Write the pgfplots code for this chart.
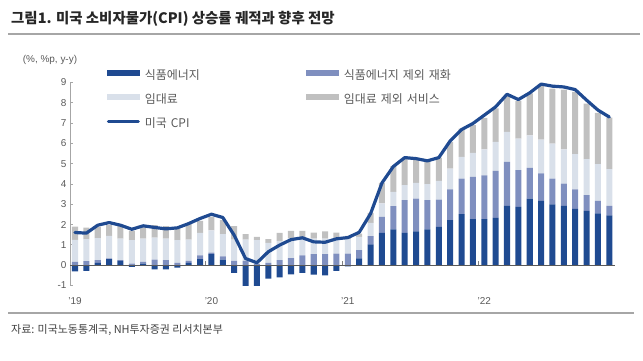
\documentclass[border=0pt]{standalone}
\usepackage{fontspec}
\usepackage{pgfplots}
\usepackage{pgfplotstable}
\pgfplotsset{compat=1.18}
\setmainfont{Liberation Sans}
\newfontfamily\cjk{Noto Sans CJK KR}
\definecolor{cFE}{HTML}{1F4A91}
\definecolor{cCG}{HTML}{7F8FBF}
\definecolor{cSH}{HTML}{D9E0EA}
\definecolor{cOS}{HTML}{C0C0C0}
\definecolor{cLine}{HTML}{1F4A91}
\definecolor{cTxt}{HTML}{595959}
\definecolor{cRule}{HTML}{A6A6A6}

\pgfplotstableread{
x fe cg sh os neg cpi
0 0 0.16 1.09 0.65 -0.30 1.61
1 0 0.20 1.09 0.56 -0.28 1.58
2 0.11 0.14 1.08 0.56 0 1.97
3 0.30 0.04 1.10 0.53 0 2.10
4 0.21 0.04 1.06 0.63 0 1.97
5 0 0.08 1.15 0.46 -0.08 1.77
6 0.08 0.08 1.15 0.55 0 1.94
7 0 0.28 1.08 0.61 -0.21 1.86
8 0 0.25 1.06 0.61 -0.21 1.79
9 0 0.11 1.13 0.55 -0.12 1.84
10 0.11 0.10 1.05 0.79 0 2.05
11 0.30 0.19 1.10 0.59 0 2.30
12 0.54 0.08 1.10 0.66 0 2.51
13 0.28 0.16 1.09 0.69 0 2.35
14 0 0.21 1.05 0.66 -0.38 1.48
15 0 0.21 1.05 0.27 -1.05 0.33
16 0 0.05 1.18 0.17 -1.05 0.12
17 0 0.11 0.99 0.18 -0.66 0.66
18 0 0.25 0.95 0.39 -0.60 0.99
19 0 0.35 0.98 0.36 -0.45 1.26
20 0 0.49 0.87 0.33 -0.38 1.35
21 0 0.54 0.77 0.30 -0.46 1.15
22 0 0.54 0.77 0.36 -0.50 1.13
23 0 0.57 0.77 0.27 -0.28 1.30
24 0 0.57 0.71 0.17 -0.06 1.36
25 0.33 0.41 0.66 0.16 0 1.62
26 1.03 0.40 0.66 0.49 0 2.54
27 1.59 0.79 0.66 1.02 0 4.05
28 1.76 1.15 0.70 1.27 0 4.86
29 1.59 1.61 0.74 1.31 0 5.30
30 1.67 1.61 0.78 1.14 0 5.25
31 1.76 1.44 0.79 1.18 0 5.14
32 1.89 1.34 0.92 1.15 0 5.30
33 2.22 1.52 1.02 1.32 0 6.12
34 2.51 1.76 1.07 1.39 0 6.68
35 2.27 2.08 1.18 1.37 0 6.98
36 2.27 2.16 1.27 1.56 0 7.39
37 2.33 2.32 1.43 1.64 0 7.80
38 2.92 2.17 1.48 1.76 0 8.42
39 2.87 1.81 1.56 1.86 0 8.16
40 3.28 1.51 1.61 2.06 0 8.49
41 3.17 1.35 1.67 2.73 0 8.92
42 3.00 1.27 1.72 2.71 0 8.82
43 2.92 1.10 1.68 2.95 0 8.78
44 2.78 0.95 1.74 3.07 0 8.65
45 2.68 0.77 1.77 2.74 0 8.13
46 2.55 0.62 1.81 2.52 0 7.64
47 2.46 0.46 1.81 2.54 0 7.30
}\datatab

\pgfplotsset{
  common/.style={
    at={(70bp,75.5bp)}, anchor=south west, scale only axis,
    width=545bp, height=203bp,
    xmin=-0.44, xmax=47.5, ymin=-1, ymax=9,
  },
  barleg/.style={legend image code/.code={\fill[##1] (0bp,0bp) rectangle (33bp,6bp);}},
  lineleg/.style={legend image code/.code={\draw[##1] (1.6bp,3bp) -- (31.4bp,3bp);}},
}

\begin{document}
\begin{tikzpicture}
\path[use as bounding box] (0bp,0bp) rectangle (643bp,361bp);
\node[anchor=west, inner sep=0pt, text=black!85, font=\cjk\bfseries\fontsize{14.5}{16}\selectfont] at (11bp,342bp) {그림1. 미국 소비자물가(CPI) 상승률 궤적과 향후 전망};
\draw[cRule, line width=2bp] (8bp,327bp) -- (640bp,327bp);
\node[inner sep=0pt, text=cTxt, font=\fontsize{10}{12}\selectfont] at (50bp,301bp) {(\%, \%p, y-y)};
\draw[cRule, line width=1.5bp] (8bp,48bp) -- (634bp,48bp);
\node[anchor=west, inner sep=0pt, text=black!75, font=\cjk\fontsize{11}{13}\selectfont] at (11bp,31bp) {자료: 미국노동통계국, NH투자증권 리서치본부};

\begin{axis}[common,
  ybar stacked, bar width=0.53,
  axis y line*=left, axis x line*=bottom,
  x axis line style={draw=none},
  y axis line style={draw=gray!70, line width=0.8bp},
  xtick={0,12,24,36}, xticklabels={'19,'20,'21,'22},
  xtick style={draw=none},
  ytick={-1,0,1,2,3,4,5,6,7,8,9},
  ytick style={draw=gray!70, line width=0.8bp},
  tick align=inside, major tick length=3bp,
  tick label style={font=\fontsize{10}{12}\selectfont, text=cTxt},
  xticklabel style={yshift=-9bp},
  /pgf/number format/assume math mode=true,
  legend columns=2,
  legend cell align=left,
  legend style={at={(0.0673,1.071)}, anchor=north west, draw=none, fill=none,
    inner sep=0pt, row sep=8.2bp, text=cTxt,
    font=\cjk\fontsize{12}{14}\selectfont,
    /tikz/every odd column/.append style={column sep=3bp},
    nodes={text width=159bp, text height=9bp, text depth=3bp}},
]
\addplot[fill=cFE, draw=none, barleg] table[x=x,y=fe]{\datatab};
\addlegendentry{식품에너지}
\addplot[fill=cCG, draw=none, barleg] table[x=x,y=cg]{\datatab};
\addlegendentry{식품에너지 제외 재화}
\addplot[fill=cSH, draw=none, barleg] table[x=x,y=sh]{\datatab};
\addlegendentry{임대료}
\addplot[fill=cOS, draw=none, barleg] table[x=x,y=os]{\datatab};
\addlegendentry{임대료 제외 서비스}
\addlegendimage{cLine, line width=3.2bp, line cap=round, lineleg}
\addlegendentry{미국 CPI}
\end{axis}

\begin{axis}[common, hide axis]
\addplot[ybar, bar width=0.53, bar shift=0pt, fill=cFE, draw=none] table[x=x,y=neg]{\datatab};
\draw[black!65, line width=0.8bp] (axis cs:-0.44,0) -- (axis cs:47.5,0);
\draw[black!50, line width=0.6bp] (axis cs:11.5,0) -- ++(0bp,4bp);
\draw[black!50, line width=0.6bp] (axis cs:23.5,0) -- ++(0bp,4bp);
\draw[black!50, line width=0.6bp] (axis cs:35.5,0) -- ++(0bp,4bp);
\addplot[cLine, line width=3.2bp, line join=round, line cap=round, mark=none] table[x=x,y=cpi]{\datatab};
\end{axis}
\end{tikzpicture}
\end{document}
